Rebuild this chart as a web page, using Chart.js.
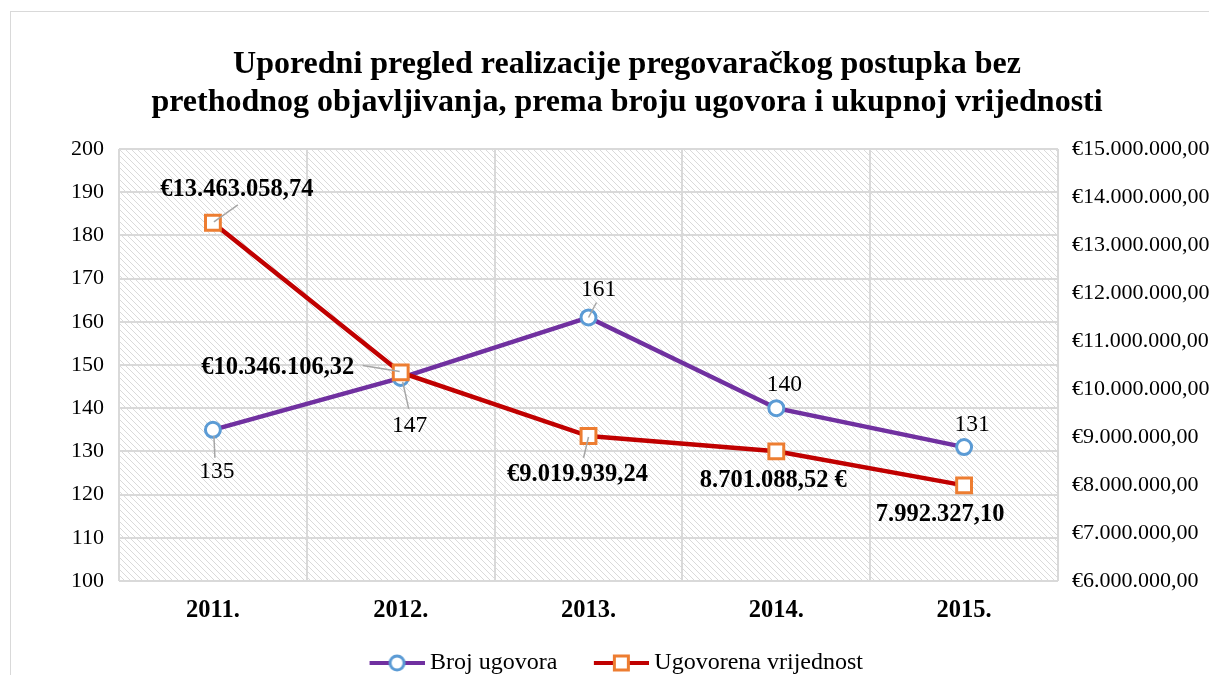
<!DOCTYPE html>
<html>
<head>
<meta charset="utf-8">
<script src="https://cdn.jsdelivr.net/npm/chart.js@4.4.1/dist/chart.umd.min.js"></script>
<style>
html,body{margin:0;padding:0;background:#fff;}
#wrap{width:1209px;height:675px;overflow:hidden;position:relative;}
canvas{display:block;}
</style>
</head>
<body>
<div id="wrap"><canvas id="c" width="1254" height="675"></canvas></div>
<script>
// ---- data ----
const categories = ['2011.', '2012.', '2013.', '2014.', '2015.'];
const brojUgovora = [135, 147, 161, 140, 131];
const ugovorenaVrijednost = [13463058.74, 10346106.32, 9019939.24, 8701088.52, 7992327.10];
const vrijednostLabels = ['€13.463.058,74', '€10.346.106,32', '€9.019.939,24', '8.701.088,52 €', '7.992.327,10'];
const leftTicks = [100, 110, 120, 130, 140, 150, 160, 170, 180, 190, 200];
const rightTicks = [6000000, 7000000, 8000000, 9000000, 10000000, 11000000, 12000000, 13000000, 14000000, 15000000];
const titleLines = ['Uporedni pregled realizacije pregovaračkog postupka bez', 'prethodnog objavljivanja, prema broju ugovora i ukupnoj vrijednosti'];
const seriesNames = ['Broj ugovora', 'Ugovorena vrijednost'];

// ---- label placement (style, offsets from the point) ----
const brojLabelLayout = [
  {dx: 4, dy: 42, leader: [1, 6, 2, 28]},
  {dx: 9, dy: 48, leader: [2, 4, 8, 31]},
  {dx: 10, dy: -28, leader: [0, 0, 8, -15]},
  {dx: 8, dy: -23},
  {dx: 8, dy: -22}
];
const vrijLabelLayout = [
  {dx: 24, dy: -33, leader: [1, -1, 25, -18]},
  {dx: -123, dy: -5, leader: [-1, -1, -38, -7]},
  {dx: -11, dy: 39, leader: [0, 1, -5, 22]},
  {dx: -3, dy: 29},
  {dx: -24, dy: 29}
];

const FONT = "'Liberation Serif', 'Times New Roman', serif";
const PURPLE = '#7030a0', RED = '#c00000', BLUE = '#5b9bd5', ORANGE = '#ed7d31';
const GRID = '#d9d9d9';

function fmtEuro(v) {
  const s = Math.round(v).toString().replace(/\B(?=(\d{3})+(?!\d))/g, '.');
  return '€' + s + ',00';
}

// legend icon: transparent lead-in on the left, line+marker on the right 55px
function legendIcon(lineColor, marker) {
  const c = document.createElement('canvas');
  c.width = 88; c.height = 20;
  const x = c.getContext('2d');
  const x0 = 88 - 55, cy = 10, cx = x0 + 27.5;
  x.strokeStyle = lineColor; x.lineWidth = 4; x.lineCap = 'butt';
  x.beginPath(); x.moveTo(x0, cy); x.lineTo(88, cy); x.stroke();
  x.fillStyle = '#fff'; x.lineWidth = 3;
  if (marker === 'circle') {
    x.strokeStyle = BLUE;
    x.beginPath(); x.arc(cx, cy, 7, 0, Math.PI * 2); x.fill(); x.stroke();
  } else {
    x.strokeStyle = ORANGE;
    x.beginPath(); x.rect(cx - 7, cy - 7, 14, 14); x.fill(); x.stroke();
  }
  return c;
}
const icons = [legendIcon(PURPLE, 'circle'), legendIcon(RED, 'rect')];

const bgPlugin = {
  id: 'bg',
  beforeDraw(chart) {
    const ctx = chart.ctx, a = chart.chartArea;
    ctx.save();
    ctx.fillStyle = '#fff';
    ctx.fillRect(0, 0, chart.width, chart.height);
    ctx.strokeStyle = '#d9d9d9'; ctx.lineWidth = 1;
    ctx.strokeRect(10.5, 11.5, chart.width + 50, chart.height + 50);
    // hatch
    ctx.beginPath(); ctx.rect(a.left, a.top, a.right - a.left, a.bottom - a.top); ctx.clip();
    ctx.strokeStyle = '#dadada'; ctx.lineWidth = 1;
    ctx.beginPath();
    const h = a.bottom - a.top;
    for (let x = a.left - h; x < a.right + 10; x += 6) {
      ctx.moveTo(x, a.top); ctx.lineTo(x + h, a.bottom);
    }
    ctx.stroke();
    ctx.restore();
  },
  afterLayout(chart) {
    const lg = chart.legend;
    if (lg) { lg.left -= 24; lg.right -= 24; lg.top += 10; lg.bottom += 10; }
  }
};

const labelPlugin = {
  id: 'pointLabels',
  afterDatasetsDraw(chart) {
    const ctx = chart.ctx;
    const sets = [
      {meta: chart.getDatasetMeta(0), texts: brojUgovora.map(String), layout: brojLabelLayout, font: '23.5px ' + FONT},
      {meta: chart.getDatasetMeta(1), texts: vrijednostLabels, layout: vrijLabelLayout, font: 'bold 24.5px ' + FONT}
    ];
    ctx.save();
    sets.forEach(s => {
      s.meta.data.forEach((pt, i) => {
        const L = s.layout[i];
        if (L.leader) {
          ctx.strokeStyle = '#a6a6a6'; ctx.lineWidth = 1.5;
          ctx.beginPath();
          ctx.moveTo(pt.x + L.leader[0], pt.y + L.leader[1]);
          ctx.lineTo(pt.x + L.leader[2], pt.y + L.leader[3]);
          ctx.stroke();
        }
        ctx.font = s.font; ctx.fillStyle = '#000';
        ctx.textAlign = 'center'; ctx.textBaseline = 'middle';
        ctx.fillText(s.texts[i], pt.x + L.dx, pt.y + L.dy);
      });
    });
    ctx.restore();
  }
};

new Chart(document.getElementById('c'), {
  type: 'line',
  data: {
    labels: categories,
    datasets: [
      {
        label: seriesNames[0], data: brojUgovora, yAxisID: 'y', order: 1,
        borderColor: PURPLE, borderWidth: 4.5, tension: 0,
        pointStyle: 'circle', pointRadius: 7.5, pointBorderWidth: 3,
        pointBorderColor: BLUE, pointBackgroundColor: '#fff'
      },
      {
        label: seriesNames[1], data: ugovorenaVrijednost, yAxisID: 'y1', order: 0,
        borderColor: RED, borderWidth: 4.5, tension: 0,
        pointStyle: 'rect', pointRadius: 10.5, pointBorderWidth: 3,
        pointBorderColor: ORANGE, pointBackgroundColor: '#fff'
      }
    ]
  },
  options: {
    responsive: false,
    animation: false,
    devicePixelRatio: 1,
    layout: {padding: 0},
    plugins: {
      title: {
        display: true, text: titleLines, color: '#000',
        font: {family: FONT, size: 32, weight: 'bold', lineHeight: 1.1875},
        padding: {top: 46, bottom: 27}
      },
      legend: {
        display: true, position: 'bottom', maxHeight: 44,
        labels: {
          usePointStyle: true, pointStyleWidth: 75, padding: 10,
          color: '#000', font: {family: FONT, size: 24},
          sort: (a, b) => a.datasetIndex - b.datasetIndex,
          generateLabels(chart) {
            return seriesNames.map((n, i) => ({
              text: n, datasetIndex: i, pointStyle: icons[i],
              fillStyle: '#fff', strokeStyle: '#fff', lineWidth: 0, hidden: false
            }));
          }
        }
      },
      tooltip: {enabled: false}
    },
    scales: {
      x: {
        offset: true,
        grid: {offset: true, color: GRID, lineWidth: 2, drawTicks: false},
        border: {display: false},
        ticks: {color: '#000', font: {family: FONT, size: 24.5, weight: 'bold'}, padding: 15},
        afterFit(s) { s.height = 50; }
      },
      y: {
        position: 'left', min: 100, max: 200,
        afterBuildTicks(s) { s.ticks = leftTicks.map(v => ({value: v})); },
        grid: {color: GRID, lineWidth: 2, drawTicks: false},
        border: {display: false},
        ticks: {color: '#000', font: {family: FONT, size: 22}, padding: 15},
        afterFit(s) { s.width = 119; }
      },
      y1: {
        position: 'right', min: 6000000, max: 15000000,
        afterBuildTicks(s) { s.ticks = rightTicks.map(v => ({value: v})); },
        grid: {drawOnChartArea: false, drawTicks: false},
        border: {display: false},
        ticks: {color: '#000', font: {family: FONT, size: 22}, padding: 14, callback: v => fmtEuro(v)},
        afterFit(s) { s.width = 196; }
      }
    }
  },
  plugins: [bgPlugin, labelPlugin]
});
</script>
</body>
</html>
